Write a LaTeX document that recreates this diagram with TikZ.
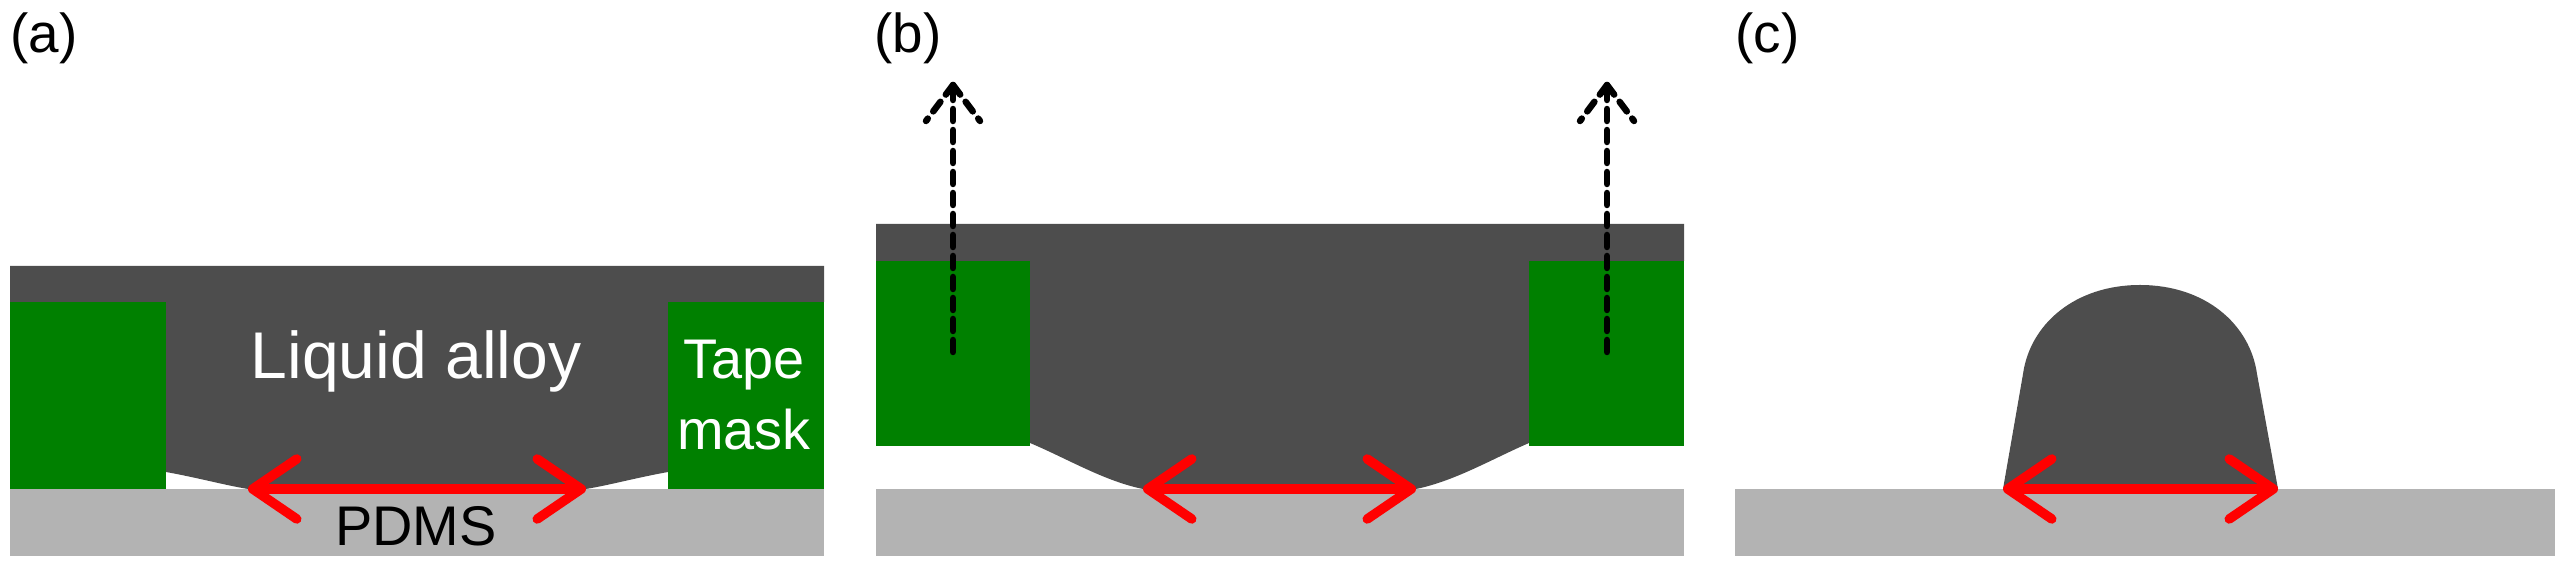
\documentclass[tikz,border=0pt]{standalone}
\usepackage{fontspec}
\setmainfont{Liberation Sans}
\usetikzlibrary{arrows.meta}

\definecolor{alloygray}{RGB}{77,77,77}
\definecolor{tapegreen}{RGB}{0,128,0}
\definecolor{pdmsgray}{RGB}{179,179,179}

\begin{document}
\begin{tikzpicture}[
    alloy/.style={fill=alloygray},
    tape/.style={fill=tapegreen},
    pdms/.style={fill=pdmsgray},
    spread/.style={red, line width=0.095cm, line cap=round,
        {Straight Barb[length=0.44cm, width=0.60cm, round]}-{Straight Barb[length=0.44cm, width=0.60cm, round]}},
    lift/.style={line width=0.065cm, line cap=round, dash pattern=on 0.12cm off 0.09cm},
    panel/.style={font=\fontsize{15.6}{18}\selectfont, anchor=base west, inner sep=0pt},
    label/.style={font=\fontsize{15.9}{19}\selectfont, anchor=base, inner sep=0pt}
]
    \useasboundingbox (0,0) rectangle (25.55,5.69);

    % Contact points of the alloy on PDMS
    \coordinate (aL) at (2.48,0.80);
    \coordinate (aR) at (5.86,0.80);
    \coordinate (bL) at (11.43,0.80);
    \coordinate (bR) at (14.16,0.80);
    \coordinate (cL) at (20.03,0.80);
    \coordinate (cR) at (22.78,0.80);

    % Tips of the peeling arrows
    \coordinate (tipL) at (9.53,4.84);
    \coordinate (tipR) at (16.07,4.84);
    \coordinate (footL) at (9.53,2.17);
    \coordinate (footR) at (16.07,2.17);

    % (a) Alloy spread over the tape mask
    \fill [pdms] (0.10,0.13) rectangle (8.24,0.80);
    \fill [alloy] (0.10,3.03) -- (8.24,3.03) -- (8.24,2.67) -- (6.68,2.67) -- (6.68,0.97)
        .. controls (6.35,0.91) and (6.10,0.84) .. (aR) -- (aL)
        .. controls (2.24,0.84) and (1.99,0.91) .. (1.66,0.97) -- (1.66,2.67) -- (0.10,2.67) -- cycle;
    \fill [tape] (0.10,0.80) rectangle (1.66,2.67);
    \fill [tape] (6.68,0.80) rectangle (8.24,2.67);
    \draw [spread] (aL) -- (aR);

    \node [label, white, font=\fontsize{18.8}{22}\selectfont] (alloyA) at (4.16,1.90) {Liquid alloy};
    \node [label, white] (tapeA) at (7.44,1.90) {Tape};
    \node [label, white] (maskA) at (7.44,1.19) {mask};
    \node [label] (pdmsA) at (4.16,0.23) {PDMS};
    \node [panel] (labA) at (0.10,5.16) {(a)};

    % (b) Peeling off the tape mask
    \fill [pdms] (8.76,0.13) rectangle (16.84,0.80);
    \fill [alloy] (8.76,3.45) -- (16.84,3.45) -- (16.84,3.08) -- (15.29,3.08) -- (15.29,1.26)
        .. controls (14.92,1.10) and (14.55,0.88) .. (bR) -- (bL)
        .. controls (11.04,0.88) and (10.68,1.10) .. (10.30,1.26) -- (10.30,3.08) -- (8.76,3.08) -- cycle;
    \fill [tape] (8.76,1.23) rectangle (10.30,3.08);
    \fill [tape] (15.29,1.23) rectangle (16.84,3.08);
    \draw [spread] (bL) -- (bR);

    \draw [lift] (footL) -- (tipL);
    \draw [lift] (tipL) -- ++(-0.27,-0.36);
    \draw [lift] (tipL) -- ++(0.27,-0.36);
    \draw [lift] (footR) -- (tipR);
    \draw [lift] (tipR) -- ++(-0.27,-0.36);
    \draw [lift] (tipR) -- ++(0.27,-0.36);
    \node [panel] (labB) at (8.74,5.16) {(b)};

    % (c) Free-standing alloy line
    \fill [pdms] (17.35,0.13) rectangle (25.55,0.80);
    \fill [alloy] (cL) -- (20.23,1.95)
        .. controls (20.30,2.45) and (20.75,2.84) .. (21.40,2.84)
        .. controls (22.05,2.84) and (22.50,2.45) .. (22.57,1.95) -- (cR) -- cycle;
    \draw [spread] (cL) -- (cR);
    \node [panel] (labC) at (17.35,5.16) {(c)};

\end{tikzpicture}
\end{document}
